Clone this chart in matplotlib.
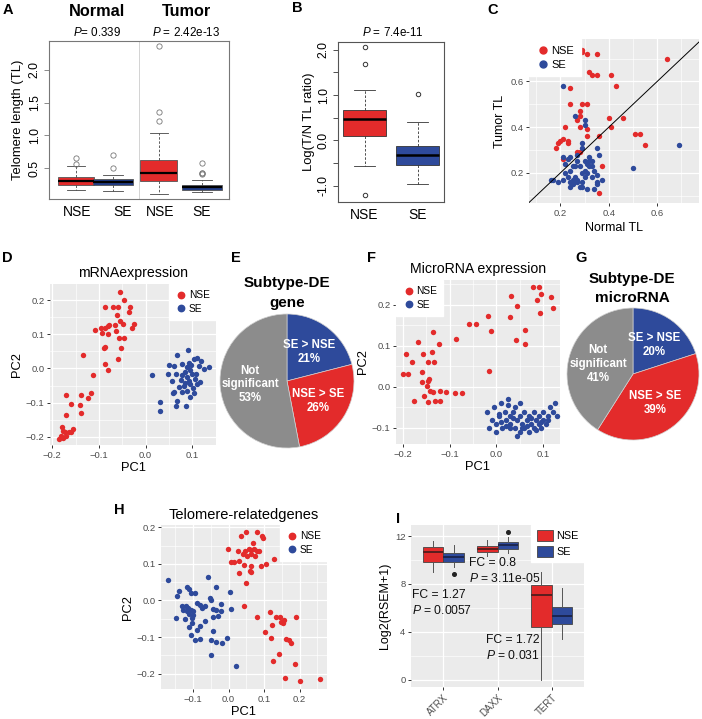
import numpy as np
import matplotlib
matplotlib.use("Agg")
import matplotlib.pyplot as plt
from matplotlib.ticker import FixedLocator, MultipleLocator
from matplotlib.lines import Line2D
from matplotlib.patches import Patch

plt.rcParams['font.family'] = ['Liberation Sans', 'DejaVu Sans']
plt.rcParams['mathtext.fontset'] = 'custom'
plt.rcParams['mathtext.rm'] = 'Liberation Sans'
plt.rcParams['mathtext.it'] = 'Liberation Sans:italic'

W, H = 702, 719
RED = '#E32B2B'
BLUE = '#2E4A9B'
NAVY = '#213C86'
GRAY = '#8C8C8C'

# ---- A: telomere length boxplots (normal / tumor)
a_groups = ['NSE', 'SE', 'NSE', 'SE']
a_med = [0.31, 0.29, 0.43, 0.21]
a_q1 = [0.245, 0.245, 0.31, 0.17]
a_q3 = [0.36, 0.33, 0.63, 0.25]
a_whislo = [0.17, 0.15, 0.11, 0.13]
a_whishi = [0.53, 0.40, 1.03, 0.32]
a_fliers = [[0.56, 0.65], [0.51, 0.70], [1.22, 1.35, 2.36], [0.41, 0.42, 0.43, 0.58]]
a_titles = ['Normal', 'Tumor']
a_pvals = ['= 0.339', ' = 2.42e-13']

# ---- B: log(T/N) ratio
b_groups = ['NSE', 'SE']
b_med = [0.47, -0.32]
b_q1 = [0.09, -0.54]
b_q3 = [0.68, -0.13]
b_whislo = [-0.57, -0.96]
b_whishi = [1.10, 0.40]
b_fliers = [[-1.21, 1.69, 2.06], [1.03]]
b_pval = '7.4e-11'

# ---- C: normal vs tumor TL
c_nse = np.array([
    [0.29, 0.74], [0.29, 0.73], [0.31, 0.72], [0.35, 0.72], [0.64, 0.70], [0.25, 0.64],
    [0.32, 0.64], [0.33, 0.63], [0.35, 0.63], [0.41, 0.63], [0.43, 0.58], [0.24, 0.57],
    [0.24, 0.50], [0.29, 0.50], [0.31, 0.50], [0.28, 0.47], [0.28, 0.45], [0.27, 0.43],
    [0.40, 0.44], [0.46, 0.44], [0.22, 0.40], [0.28, 0.40], [0.31, 0.39], [0.41, 0.40],
    [0.31, 0.36], [0.36, 0.36], [0.51, 0.37], [0.53, 0.37], [0.55, 0.32], [0.21, 0.35],
    [0.20, 0.34], [0.23, 0.34], [0.18, 0.31], [0.19, 0.33], [0.23, 0.33], [0.27, 0.29],
    [0.28, 0.29], [0.21, 0.26], [0.37, 0.23], [0.36, 0.11]])
c_se = np.array([
    [0.16, 0.17], [0.17, 0.17], [0.21, 0.17], [0.22, 0.20], [0.23, 0.18], [0.24, 0.16],
    [0.25, 0.17], [0.25, 0.15], [0.24, 0.14], [0.26, 0.18], [0.27, 0.16], [0.28, 0.14],
    [0.29, 0.16], [0.30, 0.18], [0.29, 0.20], [0.31, 0.20], [0.32, 0.23], [0.33, 0.23],
    [0.31, 0.24], [0.30, 0.25], [0.32, 0.25], [0.34, 0.21], [0.35, 0.19], [0.35, 0.16],
    [0.35, 0.15], [0.34, 0.13], [0.31, 0.13], [0.29, 0.14], [0.27, 0.17], [0.25, 0.23],
    [0.24, 0.21], [0.22, 0.24], [0.23, 0.26], [0.27, 0.25], [0.26, 0.23], [0.28, 0.23],
    [0.30, 0.21], [0.33, 0.18], [0.37, 0.17], [0.24, 0.27], [0.19, 0.16], [0.21, 0.58],
    [0.26, 0.45], [0.30, 0.43], [0.30, 0.41], [0.69, 0.32], [0.50, 0.22], [0.35, 0.31],
    [0.36, 0.28], [0.29, 0.33], [0.29, 0.31], [0.21, 0.27], [0.27, 0.28], [0.33, 0.25],
    [0.32, 0.27]])

# ---- D: mRNA PCA
d_nse = np.array([
    [-0.055, 0.225], [-0.047, 0.199], [-0.087, 0.180], [-0.069, 0.180], [-0.060, 0.180],
    [-0.034, 0.180], [-0.036, 0.165], [-0.062, 0.157], [-0.025, 0.131], [-0.055, 0.138],
    [-0.048, 0.129], [-0.065, 0.128], [-0.081, 0.124], [-0.078, 0.128], [-0.087, 0.117],
    [-0.095, 0.117], [-0.093, 0.105], [-0.081, 0.100], [-0.064, 0.110], [-0.057, 0.090],
    [-0.046, 0.090], [-0.030, 0.117], [-0.109, 0.112], [-0.090, 0.061], [-0.086, 0.063],
    [-0.053, 0.061], [-0.060, 0.029], [-0.088, 0.013], [-0.080, -0.005], [-0.112, -0.018],
    [-0.134, 0.039], [-0.171, -0.079], [-0.139, -0.077], [-0.118, -0.072], [-0.124, -0.087],
    [-0.160, -0.104], [-0.140, -0.106], [-0.171, -0.135], [-0.138, -0.131], [-0.180, -0.172],
    [-0.178, -0.182], [-0.173, -0.185], [-0.165, -0.187], [-0.156, -0.178], [-0.161, -0.185],
    [-0.181, -0.199], [-0.185, -0.206], [-0.177, -0.203], [-0.170, -0.197]])
d_se = np.array([
    [0.014, -0.020], [0.030, -0.097], [0.031, -0.125], [0.068, 0.038], [0.090, 0.054],
    [0.051, 0.009], [0.061, 0.007], [0.079, 0.013], [0.093, 0.015], [0.104, 0.028],
    [0.111, 0.030], [0.114, 0.007], [0.126, -0.003], [0.136, 0.003], [0.047, -0.015],
    [0.065, -0.017], [0.084, -0.009], [0.096, -0.005], [0.109, -0.015], [0.056, -0.036],
    [0.075, -0.034], [0.089, -0.026], [0.107, -0.031], [0.116, -0.039], [0.061, -0.070],
    [0.089, -0.065], [0.102, -0.057], [0.111, -0.046], [0.068, -0.094], [0.086, -0.109],
    [0.066, -0.109], [0.096, -0.084], [0.058, -0.071], [0.082, -0.050], [0.096, -0.046],
    [0.104, -0.073], [0.118, 0.022], [0.078, -0.018], [0.089, 0.003], [0.100, -0.017],
    [0.093, -0.036], [0.079, -0.070], [0.098, 0.010], [0.085, -0.042], [0.072, -0.055]])

# ---- E / G: pies
e_labels = ['SE > NSE', 'NSE > SE', 'Not\nsignificant']
e_pct = [21, 26, 53]
g_pct = [20, 39, 41]

# ---- F: microRNA PCA
f_nse = np.array([
    [-0.194, 0.080], [-0.181, 0.061], [-0.199, 0.031], [-0.189, 0.031], [-0.167, 0.110],
    [-0.157, 0.080], [-0.135, 0.133], [-0.146, 0.061], [-0.133, 0.061], [-0.137, 0.084],
    [-0.122, 0.104], [-0.160, 0.037], [-0.146, 0.015], [-0.159, 0.011], [-0.144, 0.019],
    [-0.149, 0.002], [-0.142, -0.010], [-0.155, -0.022], [-0.135, -0.012], [-0.121, -0.010],
    [-0.108, -0.012], [-0.176, -0.034], [-0.146, -0.038], [-0.131, -0.034], [-0.121, -0.034],
    [-0.089, -0.014], [-0.074, -0.014], [-0.087, 0.117], [-0.058, 0.153], [-0.044, 0.153],
    [0.079, 0.242], [0.091, 0.243], [0.096, 0.225], [0.086, 0.211], [0.117, 0.218],
    [0.120, 0.193], [0.093, 0.180], [0.031, 0.220], [0.043, 0.197], [-0.019, 0.172],
    [0.029, 0.169], [-0.012, 0.136], [0.061, 0.138], [0.041, 0.115], [0.061, 0.105],
    [-0.016, 0.038]])
f_se = np.array([
    [-0.020, -0.060], [-0.010, -0.080], [-0.005, -0.050], [0.000, -0.090], [0.005, -0.070],
    [0.010, -0.040], [0.012, -0.100], [0.018, -0.060], [0.020, -0.080], [0.025, -0.030],
    [0.030, -0.070], [0.030, -0.090], [0.035, -0.060], [0.040, -0.050], [0.040, -0.100],
    [0.045, -0.080], [0.050, -0.070], [0.050, -0.110], [0.055, -0.090], [0.060, -0.060],
    [0.060, -0.100], [0.065, -0.080], [0.070, -0.070], [0.070, -0.110], [0.075, -0.090],
    [0.080, -0.060], [0.080, -0.100], [0.085, -0.080], [0.090, -0.070], [0.090, -0.090],
    [0.095, -0.100], [0.100, -0.060], [0.100, -0.080], [0.105, -0.090], [0.110, -0.070],
    [0.115, -0.050], [0.120, -0.060], [0.125, -0.040], [0.130, -0.070], [-0.015, -0.100],
    [0.000, -0.110], [0.010, -0.085], [0.020, -0.095], [0.030, -0.100], [0.045, -0.120],
    [0.055, -0.100], [0.065, -0.095], [0.075, -0.075], [0.085, -0.105], [0.095, -0.085],
    [0.110, -0.080], [0.005, -0.065], [0.025, -0.045], [0.035, -0.075], [0.050, -0.040]])

# ---- H: telomere-related genes PCA
h_nse = np.array([
    [-0.002, 0.140], [0.007, 0.106], [0.016, 0.105], [0.034, 0.175], [0.050, 0.188],
    [0.079, 0.188], [0.093, 0.175], [0.096, 0.170], [0.069, 0.158], [0.027, 0.135],
    [0.046, 0.136], [0.058, 0.140], [0.064, 0.138], [0.071, 0.140], [0.079, 0.136],
    [0.086, 0.135], [0.041, 0.126], [0.052, 0.122], [0.062, 0.126], [0.074, 0.122],
    [0.030, 0.108], [0.044, 0.097], [0.063, 0.095], [0.030, 0.075], [0.060, 0.079],
    [0.064, 0.077], [0.090, 0.095], [0.105, 0.099], [0.127, 0.113], [0.050, 0.047],
    [0.044, -0.014], [0.079, -0.045], [0.102, -0.087], [0.118, -0.033], [0.122, -0.067],
    [0.133, -0.046], [0.145, -0.046], [0.147, -0.060], [0.152, -0.062], [0.156, -0.053],
    [0.189, -0.046], [0.119, -0.102], [0.163, -0.105], [0.170, -0.109], [0.177, -0.115],
    [0.141, -0.146], [0.126, -0.165], [0.188, -0.175], [0.158, -0.213], [0.201, -0.220],
    [0.256, -0.216]])
h_se = np.array([
    [-0.170, 0.056], [-0.146, 0.011], [-0.138, 0.027], [-0.118, 0.036], [-0.110, 0.031],
    [-0.106, 0.020], [-0.094, 0.020], [-0.130, -0.015], [-0.120, -0.016], [-0.113, -0.021],
    [-0.107, -0.027], [-0.099, -0.030], [-0.127, -0.025], [-0.118, -0.030], [-0.110, -0.036],
    [-0.101, -0.041], [-0.090, -0.007], [-0.080, -0.012], [-0.076, -0.021], [-0.067, -0.015],
    [-0.147, -0.049], [-0.123, -0.050], [-0.104, -0.049], [-0.052, 0.006], [-0.049, 0.000],
    [-0.058, 0.064], [-0.034, 0.036], [0.004, 0.022], [0.006, -0.024], [-0.021, -0.009],
    [-0.045, -0.024], [-0.034, -0.027], [-0.020, -0.030], [-0.029, -0.042], [-0.043, -0.045],
    [-0.066, -0.057], [-0.079, -0.069], [-0.090, -0.080], [-0.104, -0.062], [-0.111, -0.073],
    [-0.106, -0.095], [-0.095, -0.109], [-0.081, -0.105], [-0.043, -0.083], [-0.050, -0.109],
    [-0.036, -0.113], [-0.017, -0.115], [-0.003, -0.102], [-0.050, -0.149], [0.022, -0.180]])

# ---- I: gene expression boxplots
i_genes = ['ATRX', 'DAXX', 'TERT']
i_nse_med = [10.7, 10.94, 7.11]
i_nse_q1 = [9.86, 10.64, 4.44]
i_nse_q3 = [11.1, 11.17, 7.89]
i_nse_lo = [9.0, 10.33, 0.0]
i_nse_hi = [11.6, 11.67, 9.03]
i_nse_fliers = [[], [], []]
i_se_med = [10.28, 11.22, 5.28]
i_se_q1 = [9.86, 10.94, 4.69]
i_se_q3 = [10.6, 11.5, 6.03]
i_se_lo = [9.4, 10.56, 3.39]
i_se_hi = [11.25, 11.94, 7.69]
i_se_fliers = [[8.8], [12.36], []]
i_fc = ['1.27', '0.8', '1.72']
i_p = ['0.0057', '3.11e-05', '0.031']

fig = plt.figure(figsize=(W / 100, H / 100), dpi=100)


def add_ax(l, t, r, b):
    return fig.add_axes([l / W, 1 - b / H, (r - l) / W, (b - t) / H])


def ftext(x, y, s, **kw):
    kw.setdefault('ha', 'center')
    kw.setdefault('va', 'center')
    return fig.text(x / W, 1 - y / H, s, **kw)


def stats(med, q1, q3, lo, hi, fl):
    return [dict(med=m, q1=a, q3=b, whislo=c, whishi=d, fliers=f)
            for m, a, b, c, d, f in zip(med, q1, q3, lo, hi, fl)]


def gg(ax, xmaj, ymaj):
    ax.set_facecolor('#EBEBEB')
    for s in ax.spines.values():
        s.set_visible(False)
    ax.xaxis.set_major_locator(MultipleLocator(xmaj))
    ax.yaxis.set_major_locator(MultipleLocator(ymaj))
    ax.xaxis.set_minor_locator(MultipleLocator(xmaj / 2))
    ax.yaxis.set_minor_locator(MultipleLocator(ymaj / 2))
    ax.grid(True, which='major', color='white', lw=0.9)
    ax.grid(True, which='minor', color='white', lw=0.45)
    ax.set_axisbelow(True)
    ax.tick_params(which='major', length=2.5, width=0.7, color='#333333',
                   labelcolor='#4D4D4D', labelsize=6.8, pad=1.5)
    ax.tick_params(which='minor', length=0)


def gg_legend(ax, loc, fs=7.3, ms=4.6):
    hs = [Line2D([], [], marker='o', ls='', color=RED, ms=ms, label='NSE'),
          Line2D([], [], marker='o', ls='', color=BLUE, ms=ms, label='SE')]
    ax.legend(handles=hs, loc=loc, frameon=True, fancybox=False, framealpha=1,
              facecolor='white', edgecolor='white', borderaxespad=0, fontsize=fs,
              handletextpad=0.1, borderpad=0.6, labelspacing=0.35, handlelength=1.3)


def pca(ax, nse, se):
    ax.scatter(nse[:, 0], nse[:, 1], s=15, color=RED, lw=0, zorder=3)
    ax.scatter(se[:, 0], se[:, 1], s=15, color=BLUE, lw=0, zorder=3)
    ax.xaxis.set_major_formatter(lambda v, p: f'{v:.1f}'.replace('-', '\u2212'))
    ax.yaxis.set_major_formatter(lambda v, p: f'{v:.1f}'.replace('-', '\u2212'))


# ================= A
axA = add_ax(49, 41, 229, 199)
a_pos = [1.1, 1.92, 2.94, 3.9]
a_w = [0.78, 0.9, 0.82, 0.9]
bA = axA.bxp(stats(a_med, a_q1, a_q3, a_whislo, a_whishi, a_fliers), positions=a_pos,
             widths=a_w, patch_artist=True,
             boxprops=dict(edgecolor='#555555', lw=0.6),
             medianprops=dict(color='black', lw=1.6),
             whiskerprops=dict(color='#444444', lw=0.6, ls=(0, (3, 2))),
             capprops=dict(color='#444444', lw=0.6),
             flierprops=dict(marker='o', mfc='none', mec='#777777', ms=3.8, mew=0.6),
             capwidths=[w * 0.5 for w in a_w])
for patch, c in zip(bA['boxes'], [RED, NAVY, RED, NAVY]):
    patch.set_facecolor(c)
axA.set_xlim(0.5, 4.5)
axA.set_ylim(0.03, 2.44)
axA.axvline(2.5, color='#CCCCCC', lw=0.6)
axA.set_xticks([1.12, 2.14, 2.97, 3.89])
axA.set_xticklabels(a_groups, fontsize=10)
axA.tick_params(axis='x', length=0, pad=4)
axA.set_yticks([0.5, 1.0, 1.5, 2.0])
axA.set_yticklabels(['0.5', '1.0', '1.5', '2.0'], rotation=90, va='center', fontsize=8.7)
axA.tick_params(axis='y', length=3.5, width=0.6, color='#777777', pad=2.5)
for s in axA.spines.values():
    s.set_color('#777777')
    s.set_linewidth(0.8)
axA.set_ylabel('Telomere length (TL)', fontsize=9.4, labelpad=3)
ftext(97, 11.5, a_titles[0], fontsize=11.7, fontweight='bold')
ftext(186, 11.5, a_titles[1], fontsize=11.7, fontweight='bold')
ftext(97, 32, r'$P$' + a_pvals[0], fontsize=8.4)
ftext(186, 32, r'$P$' + a_pvals[1], fontsize=8.4)

# ================= B
axB = add_ax(338, 42, 444, 202)
bB = axB.bxp(stats(b_med, b_q1, b_q3, b_whislo, b_whishi, b_fliers), positions=[1, 2],
             widths=0.8, patch_artist=True,
             boxprops=dict(edgecolor='#333333', lw=0.6),
             medianprops=dict(color='black', lw=1.8),
             whiskerprops=dict(color='#333333', lw=0.6, ls=(0, (3, 2))),
             capprops=dict(color='#333333', lw=0.6),
             flierprops=dict(marker='o', mfc='none', mec='#333333', ms=3.2, mew=0.7),
             capwidths=0.4)
for patch, c in zip(bB['boxes'], [RED, BLUE]):
    patch.set_facecolor(c)
axB.set_xlim(0.5, 2.5)
axB.set_ylim(-1.36, 2.17)
axB.set_xticks([1, 2])
axB.set_xticklabels(b_groups, fontsize=10)
axB.tick_params(axis='x', length=0, pad=4)
b_ticks = [-1.0, -0.5, 0.0, 0.5, 1.0, 1.5, 2.0]
axB.set_yticks(b_ticks)
axB.set_yticklabels([f'{t:.1f}' if t == int(t) else '' for t in b_ticks],
                    rotation=90, va='center', fontsize=8.7)
axB.tick_params(axis='y', length=3.5, width=0.6, color='#333333', pad=2.5)
for s in axB.spines.values():
    s.set_color('#555555')
    s.set_linewidth(0.8)
axB.set_ylabel('Log(T/N TL ratio)', fontsize=9.4, labelpad=2)
ftext(393, 33, r'$P$ = ' + b_pval, fontsize=8.4)

# ================= C
axC = add_ax(529, 39, 699, 203)
gg(axC, 0.2, 0.2)
axC.scatter(c_nse[:, 0], c_nse[:, 1], s=15, color=RED, lw=0, zorder=3)
axC.scatter(c_se[:, 0], c_se[:, 1], s=15, color=BLUE, lw=0, zorder=3)
axC.axline((0.2, 0.2), slope=1, color='black', lw=0.7, zorder=4)
axC.set_xlim(0.07, 0.773)
axC.set_ylim(0.068, 0.786)
axC.set_xlabel('Normal TL', fontsize=9, labelpad=3)
axC.set_ylabel('Tumor TL', fontsize=9, labelpad=3)
gg_legend(axC, 'upper left', fs=8, ms=5)

# ================= D
axD = add_ax(50, 284, 216, 445)
gg(axD, 0.1, 0.1)
pca(axD, d_nse, d_se)
axD.set_xlim(-0.205, 0.151)
axD.set_ylim(-0.224, 0.247)
axD.set_xlabel('PC1', fontsize=9.3, labelpad=2)
axD.set_ylabel('PC2', fontsize=9.3, labelpad=2)
axD.set_title('mRNAexpression', fontsize=10.2, pad=5)
gg_legend(axD, 'upper right')


# ================= E / G pies
def pie(ax, pct, title, cx, ty):
    labs = iter(e_labels)
    ax.pie(pct, colors=[BLUE, RED, GRAY], startangle=90, counterclock=False, radius=1,
           autopct=lambda p: f'{next(labs)}\n{p:.0f}%', pctdistance=0.55,
           wedgeprops=dict(edgecolor='#D0D0D0', lw=0.5),
           textprops=dict(color='white', fontweight='bold', fontsize=8.3, linespacing=1.2))
    ax.set_xlim(-1, 1)
    ax.set_ylim(-1, 1)
    ftext(cx, ty, title[0], fontsize=11, fontweight='bold')
    ftext(cx, ty + 19, title[1], fontsize=11, fontweight='bold')


axE = add_ax(220, 314, 354, 448)
pie(axE, e_pct, ['Subtype-DE', 'gene'], 287, 283.5)
axG = add_ax(567, 308, 699, 440)
pie(axG, g_pct, ['Subtype-DE', 'microRNA'], 632, 279)

# ================= F
axF = add_ax(396, 280, 560, 444)
gg(axF, 0.1, 0.1)
pca(axF, f_nse, f_se)
axF.set_xlim(-0.215, 0.136)
axF.set_ylim(-0.139, 0.26)
axF.set_xlabel('PC1', fontsize=9.3, labelpad=2)
axF.set_ylabel('PC2', fontsize=9.3, labelpad=2)
axF.set_title('MicroRNA expression', fontsize=10.2, pad=5)
gg_legend(axF, 'upper left')

# ================= H
axH = add_ax(161, 525, 327, 689)
gg(axH, 0.1, 0.1)
pca(axH, h_nse, h_se)
axH.set_xlim(-0.19, 0.277)
axH.set_ylim(-0.242, 0.206)
axH.set_xlabel('PC1', fontsize=9.3, labelpad=2)
axH.set_ylabel('PC2', fontsize=9.3, labelpad=2)
axH.set_title('Telomere-relatedgenes', fontsize=10.5, pad=4)
gg_legend(axH, 'upper right')

# ================= I
axI = add_ax(411, 525, 584, 687)
gg(axI, 1, 4)
x = np.arange(1, len(i_genes) + 1)
for pos, st, col, mc in [(x - 0.1875, stats(i_nse_med, i_nse_q1, i_nse_q3, i_nse_lo, i_nse_hi, i_nse_fliers), RED, '#5a1e1e'),
                         (x + 0.1875, stats(i_se_med, i_se_q1, i_se_q3, i_se_lo, i_se_hi, i_se_fliers), BLUE, '#1b2550')]:
    axI.bxp(st, positions=pos, widths=0.375, patch_artist=True, showcaps=False,
            boxprops=dict(facecolor=col, edgecolor='#444444', lw=0.6),
            medianprops=dict(color=mc, lw=1.4),
            whiskerprops=dict(color='#555555', lw=0.7),
            flierprops=dict(marker='o', mfc='#222222', mec='#222222', ms=2.6))
axI.set_xlim(0.4, 3.6)
axI.set_ylim(-0.61, 12.92)
axI.xaxis.set_major_locator(FixedLocator(x))
axI.xaxis.set_minor_locator(FixedLocator([]))
axI.set_xticklabels(i_genes, rotation=45, ha='right', va='top', rotation_mode='anchor',
                    fontsize=7.0)
axI.tick_params(axis='x', pad=1.5)
axI.set_ylabel('Log2(RSEM+1)', fontsize=9, labelpad=3)
i_txt = [(0.42, 7.08), (1.48, 9.78), (1.79, 3.28)]
for (tx, ty), fc, p in zip(i_txt, i_fc, i_p):
    axI.text(tx, ty, f'FC = {fc}', fontsize=8.7, ha='left', va='center', color='#111111')
    axI.text(tx, ty - 1.3, r'$P$ = ' + p, fontsize=8.7, ha='left', va='center', color='#111111')
hs = [Patch(facecolor=RED, edgecolor='#444444', lw=0.6, label='NSE'),
      Patch(facecolor=BLUE, edgecolor='#444444', lw=0.6, label='SE')]
axI.legend(handles=hs, loc='upper right', frameon=True, fancybox=False, framealpha=1,
           facecolor='white', edgecolor='white', borderaxespad=0, fontsize=7.8,
           handletextpad=0.3, borderpad=0.5, labelspacing=0.45, handlelength=1.5,
           handleheight=1.1)

# panel letters
for lab, (lx, ly) in zip('ABCDEFGHI', [(8, 9.5), (297, 8.5), (493, 10), (7, 258), (236, 258),
                                       (371, 258), (581, 258), (119, 510), (398, 519)]):
    ftext(lx, ly, lab, fontsize=10.5, fontweight='bold')

fig.savefig('out.png', dpi=100)
